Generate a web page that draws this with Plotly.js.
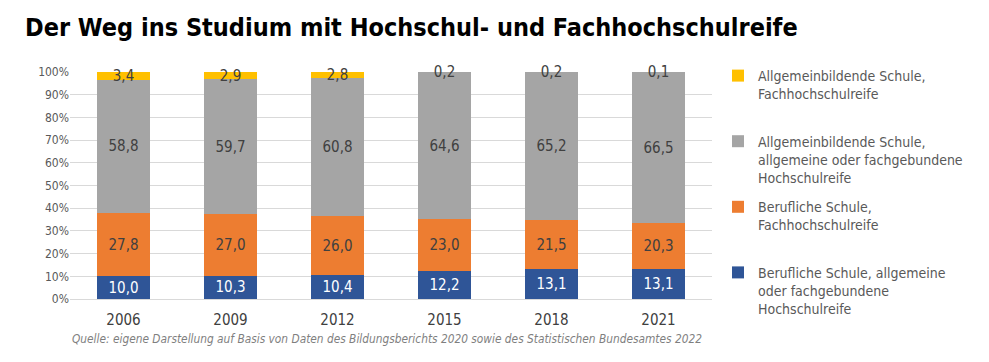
<!DOCTYPE html>
<html>
<head>
<meta charset="utf-8">
<script src="https://cdn.plot.ly/plotly-3.0.1.min.js"></script>
<style>
html,body{margin:0;padding:0;background:#fff;}
#chart{width:989px;height:362px;}
svg text{font-stretch:condensed;}
</style>
</head>
<body>
<div id="chart"></div>
<script>
const years = ['2006', '2009', '2012', '2015', '2018', '2021'];
const berufAllg = [10.0, 10.3, 10.4, 12.2, 13.1, 13.1];
const berufFH = [27.8, 27.0, 26.0, 23.0, 21.5, 20.3];
const allgAllg = [58.8, 59.7, 60.8, 64.6, 65.2, 66.5];
const allgFH = [3.4, 2.9, 2.8, 0.2, 0.2, 0.1];

const names = [
  'Berufliche Schule, allgemeine<br>oder fachgebundene<br>Hochschulreife',
  'Berufliche Schule,<br>Fachhochschulreife<br> ',
  'Allgemeinbildende Schule,<br>allgemeine oder fachgebundene<br>Hochschulreife',
  'Allgemeinbildende Schule,<br>Fachhochschulreife<br> '
];
const colors = ['#2F5597', '#ED7D31', '#A5A5A5', '#FFC000'];
const labelColors = ['#FFFFFF', '#404040', '#404040', '#404040'];
const series = [berufAllg, berufFH, allgAllg, allgFH];

const FONT = '"DejaVu Sans", sans-serif';

const traces = series.map((vals, i) => ({
  type: 'bar',
  x: years,
  y: vals,
  name: names[i],
  legendgroup: 'g' + i,
  legendrank: 1000 - i,
  marker: {color: colors[i], line: {width: 0}},
  texttemplate: '%{y:.1f}',
  textposition: 'inside',
  insidetextanchor: 'middle',
  textangle: 0,
  constraintext: 'none',
  cliponaxis: false,
  textfont: {family: FONT, size: 15, color: labelColors[i]},
  hoverinfo: 'skip'
}));

const layout = {
  width: 989,
  height: 362,
  barmode: 'stack',
  bargap: 0.5,
  separators: ',.',
  paper_bgcolor: '#ffffff',
  plot_bgcolor: '#ffffff',
  margin: {l: 70, r: 277, t: 72, b: 63},
  title: {
    text: '<b>Der Weg ins Studium mit Hochschul- und Fachhochschulreife</b>',
    font: {family: FONT, size: 25, color: '#000000'},
    xref: 'container', x: 25 / 989, xanchor: 'left',
    yref: 'container', y: 1 - 27 / 362, yanchor: 'middle'
  },
  xaxis: {
    type: 'category',
    showgrid: false,
    showline: false,
    zeroline: false,
    ticks: '',
    ticklabelstandoff: 10,
    tickfont: {family: FONT, size: 15, color: '#404040'}
  },
  yaxis: {
    range: [0, 100.01],
    tickmode: 'linear',
    tick0: 0,
    dtick: 10,
    ticksuffix: '%',
    showgrid: true,
    gridcolor: '#D9D9D9',
    gridwidth: 1,
    zeroline: true,
    zerolinecolor: '#D9D9D9',
    showline: false,
    ticks: '',
    tickfont: {family: FONT, size: 12, color: '#595959'}
  },
  legend: {
    traceorder: 'grouped',
    tracegroupgap: 8,
    xref: 'container', x: 718 / 989, xanchor: 'left',
    yref: 'container', y: 1 - 60 / 362, yanchor: 'top',
    valign: 'top',
    maxheight: 1,
    font: {family: FONT, size: 14, color: '#595959'},
    itemwidth: 30,
    bgcolor: 'rgba(0,0,0,0)'
  },
  annotations: [{
    text: '<i>Quelle: eigene Darstellung auf Basis von Daten des Bildungsberichts 2020 sowie des Statistischen Bundesamtes 2022</i>',
    xref: 'paper', x: 0, xanchor: 'left',
    yref: 'paper', y: (299 - 339) / 227, yanchor: 'middle',
    showarrow: false,
    font: {family: FONT, size: 11.8, color: '#7F7F7F'}
  }]
};

Plotly.newPlot('chart', traces, layout, {displayModeBar: false, staticPlot: true});
</script>
</body>
</html>
